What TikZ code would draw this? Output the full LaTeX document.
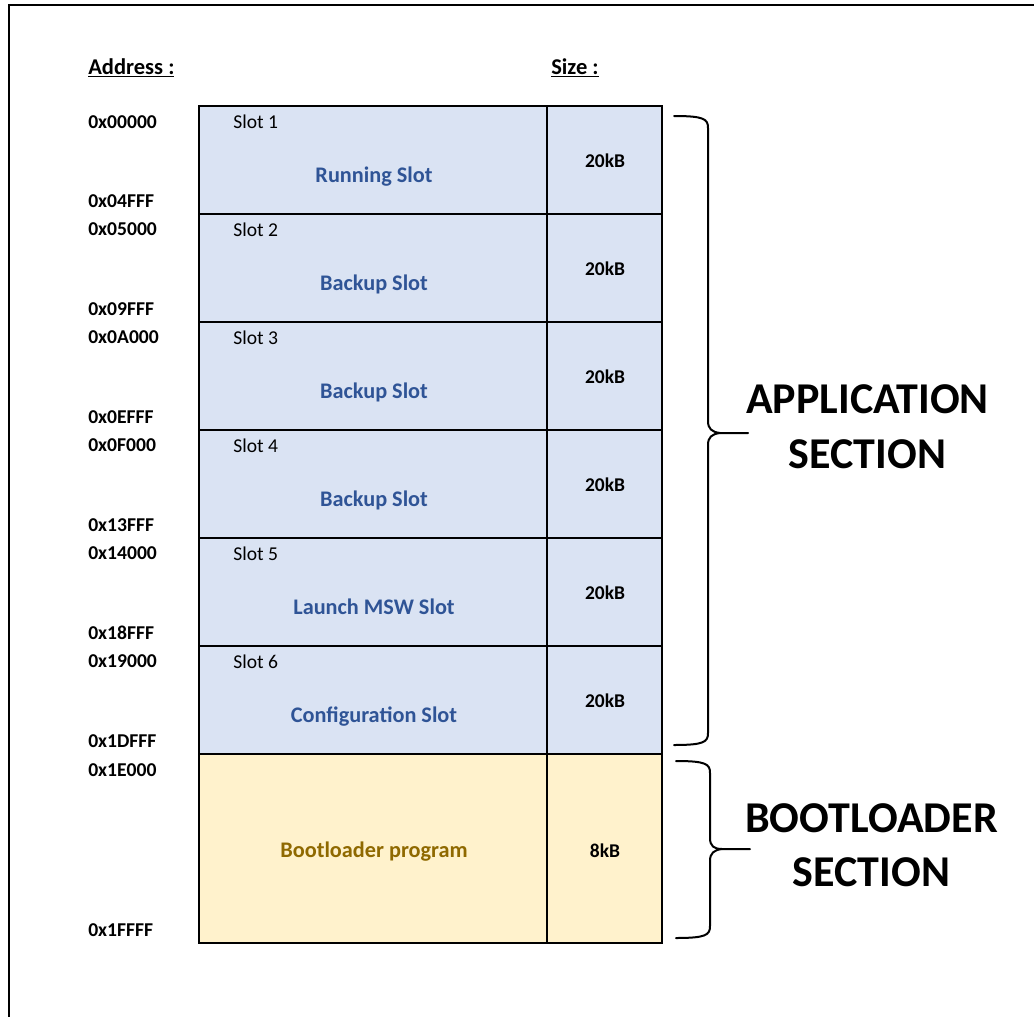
\documentclass[tikz,border=0pt]{standalone}
\usepackage{fontspec}
\setmainfont{Carlito}
\definecolor{slotfill}{RGB}{218,227,243}
\definecolor{bootfill}{RGB}{255,242,204}
\definecolor{slottext}{RGB}{47,84,150}
\definecolor{boottext}{RGB}{143,105,0}
\begin{document}
\begin{tikzpicture}[x=0.75pt,y=-0.75pt,
  addr/.style={anchor=base west,inner sep=0,font=\bfseries\fontsize{14.7}{17}\selectfont},
  head/.style={anchor=base west,inner sep=0,font=\bfseries\fontsize{16.9}{20}\selectfont},
  slotlbl/.style={anchor=base west,inner sep=0,font=\fontsize{14.7}{17}\selectfont},
  midlbl/.style={anchor=base,inner sep=0,text=slottext,font=\bfseries\fontsize{16.7}{20}\selectfont},
  sizelbl/.style={anchor=base,inner sep=0,font=\bfseries\fontsize{14.6}{17}\selectfont},
  biglbl/.style={anchor=base,inner sep=0,font=\bfseries\fontsize{33}{40}\selectfont},
  brace/.style={line width=1.5pt,line cap=round,line join=round}]
\useasboundingbox (0,0) rectangle (1034,1017);
% frame
\draw[line width=1.5pt] (1034,5) -- (9,5) -- (9,1017);
% headings
\node[head] (haddr) at (88,74.5) {\underline{Address :}};
\node[head] (hsize) at (551,74.5) {\underline{Size :}};
% slots
\foreach \i/\lab in {1/Running Slot,2/Backup Slot,3/Backup Slot,4/Backup Slot,5/Launch MSW Slot,6/Configuration Slot} {
  \pgfmathsetmacro\t{106+108*(\i-1)}
  \fill[slotfill] (199,\t) rectangle (662,\t+108);
  \node[slotlbl] (s\i) at (233,\t+22) {Slot \i};
  \node[midlbl] (m\i) at (374,\t+76) {\lab};
  \node[sizelbl] (z\i) at (605,\t+61) {20kB};
}
\fill[bootfill] (199,754) rectangle (662,943);
\node[midlbl,text=boottext] (mboot) at (374,857) {Bootloader program};
\node[sizelbl] (zboot) at (605,857) {8kB};
% grid lines
\foreach \y in {214,322,430,538,646} \draw[line width=1.1pt] (199,\y) -- (662,\y);
\draw[line width=1.4pt] (199,754) -- (662,754);
\draw[line width=0.9pt] (547,106) -- (547,943);
\draw[line width=1.6pt] (199,106) rectangle (662,943);
% addresses
\foreach \y/\a in {128/0x00000,207/0x04FFF,235/0x05000,315/0x09FFF,343/0x0A000,423/0x0EFFF,451/0x0F000,531/0x13FFF,559/0x14000,639/0x18FFF,667/0x19000,747/0x1DFFF,776/0x1E000,936/0x1FFFF}
  \node[addr] at (88,\y) {\a};
% braces
\draw[brace] (674,116) .. controls (704,116) and (708,119) .. (708,128) -- (708,421)
  .. controls (708,429) and (712,432) .. (720,433) -- (748,433);
\draw[brace] (720,433) .. controls (712,434) and (708,437) .. (708,445) -- (708,733)
  .. controls (708,742) and (704,745) .. (674,745);
\draw[brace] (676,761) .. controls (706,761) and (710,764) .. (710,773) -- (710,838)
  .. controls (710,846) and (714,849) .. (722,849) -- (750,849);
\draw[brace] (722,849) .. controls (714,850) and (710,853) .. (710,861) -- (710,926)
  .. controls (710,935) and (706,938) .. (676,938);
% section labels
\node[biglbl] (app1) at (867.5,413) {APPLICATION};
\node[biglbl] (app2) at (867.5,468) {SECTION};
\node[biglbl] (boot1) at (871.5,832) {BOOTLOADER};
\node[biglbl] (boot2) at (871.5,886) {SECTION};
\end{tikzpicture}
\end{document}
